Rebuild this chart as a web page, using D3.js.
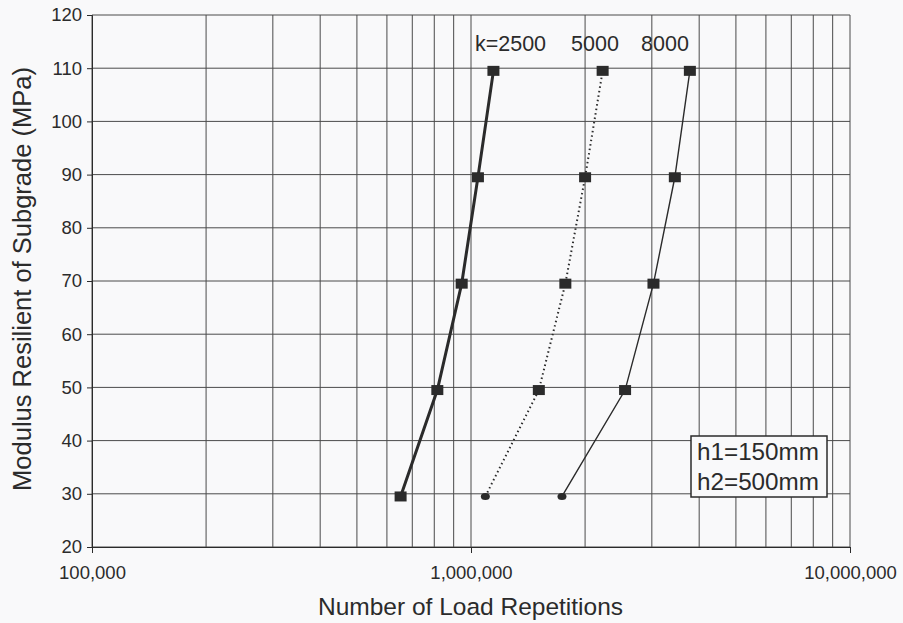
<!DOCTYPE html>
<html><head><meta charset="utf-8">
<script src="https://cdn.jsdelivr.net/npm/d3@7"></script>
<style>
body{margin:0;background:#f9f9fa;}
svg{display:block;font-family:"Liberation Sans",Arial,sans-serif;}
</style></head><body>
<svg id="c" width="903" height="623"></svg>
<script>
const modulus = [29.5, 49.5, 69.5, 89.5, 109.5];
const seriesNames = ["k=2500", "5000", "8000"];
const rep2500 = [652000, 815000, 945000, 1043000, 1146000];
const rep5000 = [1091000, 1510000, 1774000, 2000000, 2225000];
const rep8000 = [1738000, 2550000, 3030000, 3450000, 3780000];
const xTickValues = [1e5, 1e6, 1e7];
const xTickLabels = ["100,000", "1,000,000", "10,000,000"];
const yTickValues = [20,30,40,50,60,70,80,90,100,110,120];
const legendLines = ["h1=150mm", "h2=500mm"];

const svg = d3.select("#c");
const L=92, R=850, T=15, B=547;
const x = d3.scaleLog().domain([1e5,1e7]).range([L,R]);
const y = d3.scaleLinear().domain([20,120]).range([B,T]);
const ink = "#2b2b2b";

// vertical minor/major grid
const vgrid = [];
for (let d=1e5; d<1e7; d*=10) for (let m=1;m<=9;m++) vgrid.push(d*m);
vgrid.push(1e7);
svg.append("g").selectAll("line").data(vgrid).join("line")
  .attr("x1",d=>x(d)).attr("x2",d=>x(d)).attr("y1",T).attr("y2",B)
  .attr("stroke","#4a4a4a").attr("stroke-width",1);
svg.append("g").selectAll("line").data(yTickValues).join("line")
  .attr("x1",L).attr("x2",R).attr("y1",d=>y(d)).attr("y2",d=>y(d))
  .attr("stroke","#4a4a4a").attr("stroke-width",1);

// axes
const yAxis = d3.axisLeft(y).tickValues(yTickValues).tickSize(5).tickPadding(5);
const gy = svg.append("g").attr("transform",`translate(${L},0)`).call(yAxis);
gy.selectAll("text").attr("font-size",18.5).attr("fill",ink).attr("font-family","Liberation Sans, Arial, sans-serif");
gy.selectAll("line,path").attr("stroke",ink);

const xAxis = d3.axisBottom(x).tickValues(xTickValues).tickSize(6).tickPadding(13)
  .tickFormat((d,i)=>xTickLabels[i]);
const gx = svg.append("g").attr("transform",`translate(0,${B})`).call(xAxis);
gx.selectAll("text").attr("font-size",18.5).attr("fill",ink).attr("font-family","Liberation Sans, Arial, sans-serif");
gx.selectAll("line,path").attr("stroke",ink);

// series
const series = [
  {vals:rep2500, width:3, dash:null, endCircle:false},
  {vals:rep5000, width:2, dash:"1.5,3", endCircle:true},
  {vals:rep8000, width:1.4, dash:null, endCircle:true}
];
const line = d3.line().x(d=>x(d[0])).y(d=>y(d[1]));
series.forEach(s=>{
  const pts = s.vals.map((v,i)=>[v, modulus[i]]);
  svg.append("path").datum(pts).attr("d",line).attr("fill","none")
    .attr("stroke",ink).attr("stroke-width",s.width)
    .attr("stroke-dasharray",s.dash);
  const g = svg.append("g");
  pts.forEach((p,i)=>{
    if (i===0 && s.endCircle) {
      g.append("ellipse").attr("cx",x(p[0])).attr("cy",y(p[1])).attr("rx",4.5).attr("ry",3.5).attr("fill",ink);
    } else {
      g.append("rect").attr("x",x(p[0])-6).attr("y",y(p[1])-5).attr("width",12).attr("height",10).attr("fill",ink);
    }
  });
});

// series labels
const labelPos = [510.5, 595, 665];
svg.append("g").selectAll("text").data(seriesNames).join("text")
  .attr("x",(d,i)=>labelPos[i]).attr("y",51).attr("text-anchor","middle")
  .attr("font-size",21.5).attr("fill",ink).text(d=>d);

// legend box
svg.append("rect").attr("x",691).attr("y",436).attr("width",136).attr("height",61)
  .attr("fill","#f9f9fa").attr("stroke",ink).attr("stroke-width",1.5);
svg.append("g").selectAll("text").data(legendLines).join("text")
  .attr("x",697).attr("y",(d,i)=>460+i*30).attr("font-size",24)
  .attr("textLength",122).attr("lengthAdjust","spacingAndGlyphs")
  .attr("fill",ink).text(d=>d);

// titles
svg.append("text").attr("x",470.5).attr("y",615).attr("text-anchor","middle")
  .attr("font-size",24.5).attr("fill",ink).text("Number of Load Repetitions");
svg.append("text").attr("transform","translate(31,279) rotate(-90)").attr("text-anchor","middle")
  .attr("font-size",25.5).attr("fill",ink).text("Modulus Resilient of Subgrade (MPa)");
</script></body></html>
